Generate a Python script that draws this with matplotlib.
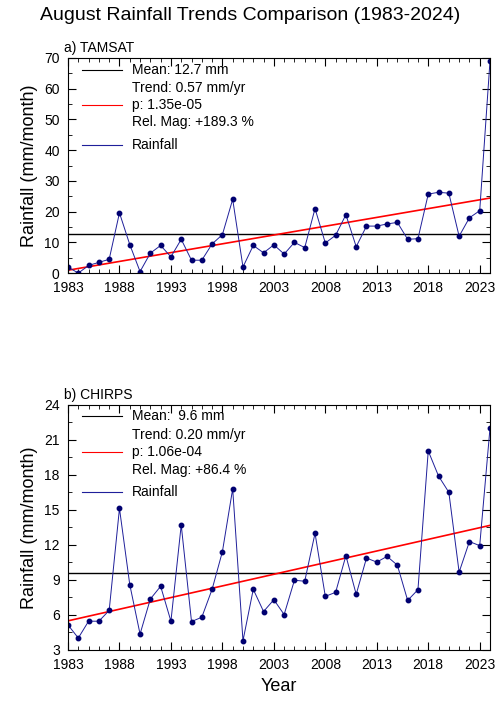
import matplotlib.pyplot as plt
import numpy as np
from matplotlib.ticker import MultipleLocator, FixedLocator

plt.rcParams["font.family"] = ["Liberation Sans", "DejaVu Sans"]

years = np.arange(1983, 2025)
tamsat = [2.0, 0.0, 2.5, 3.5, 4.5, 19.6, 9.3, 0.5, 6.5, 9.0, 5.3, 11.0, 4.2, 4.2,
          9.5, 12.5, 24.0, 2.0, 9.0, 6.6, 9.2, 6.2, 10.0, 8.3, 21.0, 9.8, 12.3, 19.0,
          8.6, 15.3, 15.3, 16.0, 16.5, 11.0, 11.2, 25.7, 26.3, 26.0, 12.0, 18.0, 20.3, 69.0]
chirps = [5.14, 4.02, 5.46, 5.46, 6.38, 15.12, 8.6, 4.36, 7.36, 8.45, 5.46, 13.7, 5.43,
          5.8, 8.19, 11.41, 16.8, 3.79, 8.19, 6.29, 7.3, 6.03, 8.97, 8.88, 12.99, 7.59,
          7.93, 11.07, 7.76, 10.87, 10.52, 11.01, 10.26, 7.24, 8.16, 20.04, 17.89, 16.5,
          9.66, 12.28, 11.93, 22.0]

panels = [
    ("a) TAMSAT", tamsat, (0, 70), 10, 5,
     ["Mean: 12.7 mm", "Trend: 0.57 mm/yr", "p: 1.35e-05", "Rel. Mag: +189.3 %"]),
    ("b) CHIRPS", chirps, (3, 24), 3, 1.5,
     ["Mean:  9.6 mm", "Trend: 0.20 mm/yr", "p: 1.06e-04", "Rel. Mag: +86.4 %"]),
]

fig = plt.figure(figsize=(5.0, 7.15), dpi=100)
fig.text(0.5, 0.978, "August Rainfall Trends Comparison (1983-2024)",
         ha="center", va="center", fontsize=14)

rects = [[0.136, 0.618, 0.844, 0.301], [0.136, 0.091, 0.844, 0.343]]

for rect, (name, vals, ylim, major, minor, texts) in zip(rects, panels):
    ax = fig.add_axes(rect)
    vals = np.array(vals)
    mean = vals.mean()
    slope, icpt = np.polyfit(years, vals, 1)

    ax.axhline(mean, color="black", lw=1.0)
    ax.plot(years, slope * years + icpt, color="red", lw=1.2)
    ax.plot(years, vals, "-", color="#1f1f9a", lw=0.7)
    ax.plot(years, vals, "o", color="#000070", ms=3.2)

    ax.set_xlim(1983, 2024)
    ax.set_ylim(*ylim)
    ax.xaxis.set_major_locator(FixedLocator(range(1983, 2025, 5)))
    ax.xaxis.set_minor_locator(MultipleLocator(1))
    ax.yaxis.set_major_locator(MultipleLocator(major))
    ax.yaxis.set_minor_locator(MultipleLocator(minor))
    ax.tick_params(which="both", direction="in", top=True, right=True, labelsize=10, pad=6)
    ax.tick_params(which="major", length=6)
    ax.tick_params(which="minor", length=3)
    ax.set_ylabel("Rainfall (mm/month)", fontsize=13)
    ax.set_title(name, loc="left", fontsize=10, pad=4, x=-0.01)

    # legend drawn by hand
    tr = ax.transAxes
    rows = [0.946, 0.858, 0.783, 0.700, 0.595] if name.startswith("a") else \
           [0.953, 0.875, 0.808, 0.735, 0.643]
    for y, c in [(rows[0], "black"), (rows[2], "red"), (rows[4], "#1f1f9a")]:
        ax.plot([0.033, 0.128], [y] * 2, color=c, lw=0.8, transform=tr)
    for y, t in zip(rows[:4], texts):
        ax.text(0.152, y, t, transform=tr, va="center", fontsize=10)
    ax.text(0.152, rows[4], "Rainfall", transform=tr, va="center", fontsize=10)

ax.set_xlabel("Year", fontsize=13)
fig.savefig("out.png", dpi=100)
